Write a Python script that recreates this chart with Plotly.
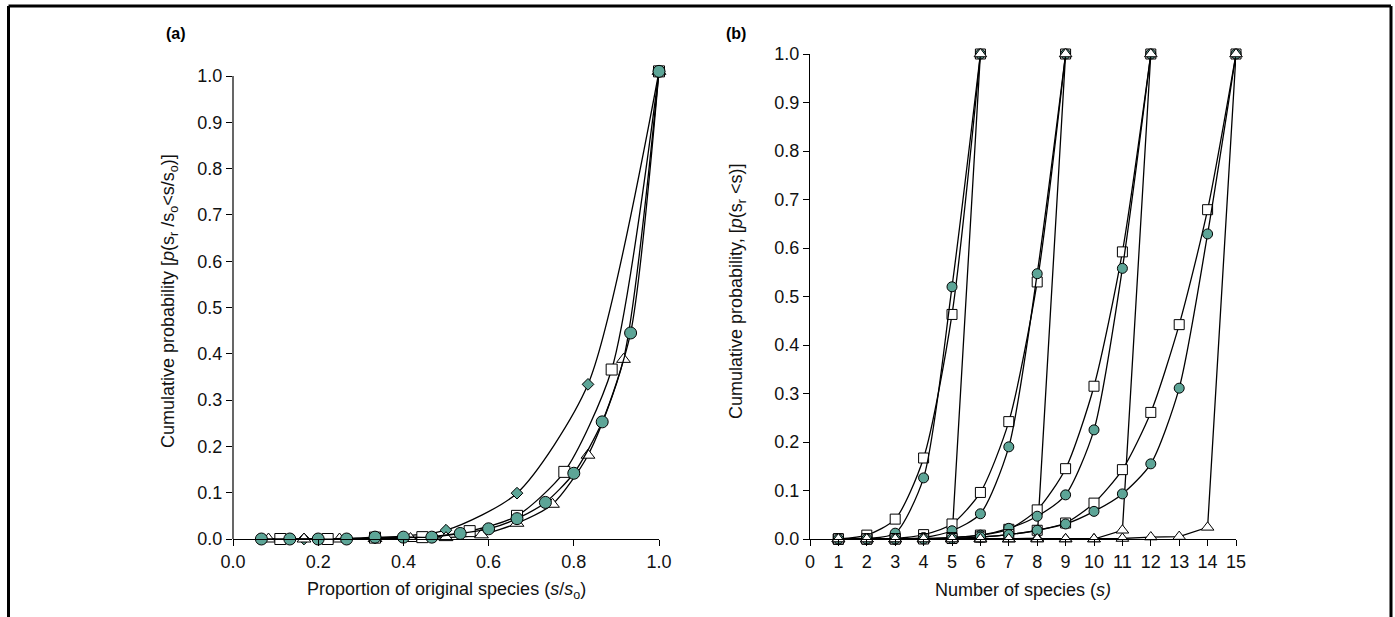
import plotly.graph_objects as go

# ---------------- Panel (a) data ----------------
a_diamond_x = [1/6, 2/6, 3/6, 4/6, 5/6, 1.0]
a_diamond_y = [0.0, 0.002, 0.019, 0.099, 0.334, 1.01]

a_triangle_x = [n/12 for n in range(1, 13)]
a_triangle_y = [0.0, 0.0, 0.0, 0.001, 0.001, 0.003, 0.009, 0.034, 0.075, 0.181, 0.388, 1.01]

a_square_x = [n/9 for n in range(1, 10)]
a_square_y = [0.0, 0.0, 0.003, 0.004, 0.017, 0.05, 0.145, 0.366, 1.01]

a_circle_x = [n/15 for n in range(1, 16)]
a_circle_y = [0.0, 0.0, 0.0, 0.0, 0.004, 0.004, 0.004, 0.012, 0.022, 0.044,
              0.079, 0.142, 0.253, 0.445, 1.01]

# ---------------- Panel (b) data ----------------
b6_s = [1, 2, 3, 4, 5, 6]
b6_square = [0.0, 0.008, 0.041, 0.167, 0.463, 1.0]
b6_circle = [0.0, 0.001, 0.012, 0.126, 0.52, 1.0]
b6_triangle = [0.0, 0.0, 0.0, 0.0, 0.002, 1.0]

b9_s = [1, 2, 3, 4, 5, 6, 7, 8, 9]
b9_square = [0.0, 0.0, 0.001, 0.009, 0.031, 0.096, 0.242, 0.53, 1.0]
b9_circle = [0.0, 0.0, 0.0, 0.003, 0.017, 0.052, 0.19, 0.547, 1.0]
b9_triangle = [0.0, 0.0, 0.0, 0.0, 0.0, 0.0, 0.0, 0.002, 1.0]

b12_s = [1, 2, 3, 4, 5, 6, 7, 8, 9, 10, 11, 12]
b12_square = [0.0, 0.0, 0.0, 0.001, 0.003, 0.008, 0.02, 0.06, 0.145, 0.315, 0.592, 1.0]
b12_circle = [0.0, 0.0, 0.0, 0.001, 0.003, 0.008, 0.022, 0.047, 0.091, 0.225, 0.558, 1.0]
b12_triangle = [0.0, 0.0, 0.0, 0.0, 0.0, 0.0, 0.0, 0.0, 0.0, 0.0, 0.018, 1.0]

b15_s = [1, 2, 3, 4, 5, 6, 7, 8, 9, 10, 11, 12, 13, 14, 15]
b15_square = [0.0, 0.0, 0.0, 0.0, 0.001, 0.004, 0.009, 0.018, 0.033, 0.074, 0.143, 0.261, 0.442, 0.679, 1.0]
b15_circle = [0.0, 0.0, 0.0, 0.0, 0.001, 0.004, 0.009, 0.018, 0.031, 0.057, 0.093, 0.155, 0.311, 0.629, 1.0]
b15_triangle = [0.0, 0.0, 0.0, 0.0, 0.0, 0.0, 0.0, 0.0, 0.0, 0.0, 0.001, 0.004, 0.005, 0.024, 1.0]

a_xticks = [0.0, 0.2, 0.4, 0.6, 0.8, 1.0]
yticks = [round(0.1 * i, 1) for i in range(11)]
b_xticks = list(range(0, 16))

TEAL = "#5DA597"
FONT = "Liberation Sans, Arial, sans-serif"
W, H = 1395, 617

fig = go.Figure()

def add(x, y, symbol, fill, size, xa, ya, shape="spline"):
    fig.add_trace(go.Scatter(
        x=x, y=y, mode="lines+markers", xaxis=xa, yaxis=ya,
        line=dict(color="black", width=1.3, shape=shape, smoothing=0.7),
        marker=dict(symbol=symbol, size=size, color=fill,
                    line=dict(color="black", width=1)),
        cliponaxis=False, showlegend=False, hoverinfo="skip"))

# panel a
add(a_diamond_x, a_diamond_y, "diamond", TEAL, 9, "x", "y")
add(a_triangle_x, a_triangle_y, "triangle-up", "white", 12, "x", "y")
add(a_square_x, a_square_y, "square", "white", 11, "x", "y")
add(a_circle_x, a_circle_y, "circle", TEAL, 12, "x", "y")

# panel b
for s, sq, ci, tr in [(b6_s, b6_square, b6_circle, b6_triangle),
                      (b9_s, b9_square, b9_circle, b9_triangle),
                      (b12_s, b12_square, b12_circle, b12_triangle),
                      (b15_s, b15_square, b15_circle, b15_triangle)]:
    add(s, sq, "square", "white", 10, "x2", "y2")
    add(s, ci, "circle", TEAL, 10, "x2", "y2")
    add(s, tr, "triangle-up", "white", 11, "x2", "y2", shape="linear")

def px_x(p):
    return p / W

def px_y(p):
    return 1 - p / H

axis_common = dict(showgrid=False, zeroline=False, ticks="outside", ticklen=6,
                   tickcolor="black", tickwidth=1.2, automargin=False,
                   tickfont=dict(family=FONT, size=18, color="#111"))

A_TOP = 1.03  # panel (a) y range top, so that the markers at ~1.01 show
fig.update_layout(
    width=W, height=H, autosize=False, margin=dict(l=0, r=0, t=0, b=0, pad=0),
    paper_bgcolor="white", plot_bgcolor="white",
    xaxis=dict(domain=[px_x(233), px_x(659)], range=[0, 1.0], tickvals=a_xticks,
               ticktext=[f"{v:.1f}" for v in a_xticks], anchor="y",
               showline=True, linecolor="black", linewidth=1.2, **axis_common),
    yaxis=dict(domain=[px_y(539), px_y(539 - 463 * A_TOP)], range=[0, A_TOP], tickvals=yticks,
               ticktext=[f"{v:.1f}" for v in yticks], anchor="x",
               showline=False, **axis_common),
    xaxis2=dict(domain=[px_x(810), px_x(1236)], range=[0, 15], tickvals=b_xticks,
                ticktext=[str(v) for v in b_xticks], anchor="y2",
                showline=True, linecolor="black", linewidth=1.2, **axis_common),
    yaxis2=dict(domain=[px_y(539), px_y(54)], range=[0, 1.0], tickvals=yticks,
                ticktext=[f"{v:.1f}" for v in yticks], anchor="x2",
                showline=True, linecolor="black", linewidth=1.2, **axis_common),
)

title_font = dict(family=FONT, size=18, color="#111")
ann = [
    dict(x=px_x(176), y=px_y(33), text="<b>(a)</b>", font=dict(family=FONT, size=16, color="black")),
    dict(x=px_x(736), y=px_y(33), text="<b>(b)</b>", font=dict(family=FONT, size=16, color="black")),
    dict(x=px_x(446), y=px_y(590),
         text="Proportion of original species (<i>s</i>/<i>s</i><sub>o</sub>)", font=title_font),
    dict(x=px_x(1023), y=px_y(590), text="Number of species (<i>s)</i>", font=title_font),
    dict(x=px_x(169), y=px_y(301), textangle=-90,
         text="Cumulative probability [<i>p</i>(s<sub>r</sub> /s<sub>o</sub>&lt;s/s<sub>o</sub>)]",
         font=title_font),
    dict(x=px_x(737), y=px_y(292), textangle=-90,
         text="Cumulative probability, [<i>p</i>(s<sub>r</sub> &lt;s)]", font=title_font),
]
for a in ann:
    a.update(xref="paper", yref="paper", showarrow=False, xanchor="center", yanchor="middle")
fig.update_layout(annotations=ann)

# outer frame (open at bottom) and the y axis line of panel (a) up to 1.0
frame = dict(type="line", xref="paper", yref="paper", line=dict(color="black", width=3))
fig.update_layout(shapes=[
    dict(frame, x0=px_x(8.5), x1=px_x(8.5), y0=0, y1=px_y(6)),
    dict(frame, x0=px_x(8.5), x1=px_x(1391), y0=px_y(6), y1=px_y(6)),
    dict(frame, x0=px_x(1391), x1=px_x(1391), y0=0, y1=px_y(6)),
    dict(type="line", xref="x domain", yref="y", x0=0, x1=0, y0=0, y1=1.0,
         line=dict(color="black", width=1.2)),
])

fig.write_html("out.html", config={"displayModeBar": False},
               post_script="document.body.style.margin='0';document.body.style.overflow='hidden';")
